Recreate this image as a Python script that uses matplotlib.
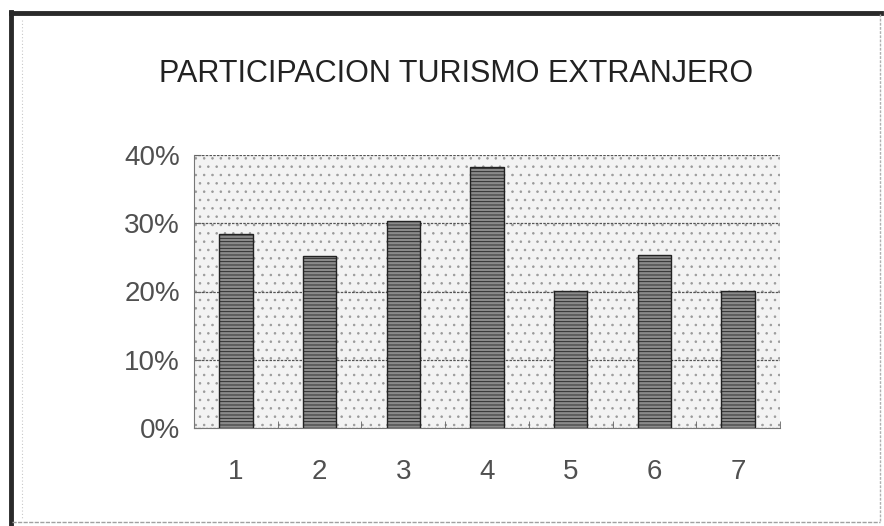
import matplotlib
matplotlib.use("Agg")
import matplotlib.pyplot as plt
from matplotlib.patches import Rectangle
from matplotlib.lines import Line2D
from matplotlib.ticker import FuncFormatter, FixedLocator

categories = ["1", "2", "3", "4", "5", "6", "7"]
values = [0.284, 0.252, 0.304, 0.383, 0.201, 0.253, 0.201]
yticks = [0.0, 0.1, 0.2, 0.3, 0.4]
title = "PARTICIPACION TURISMO EXTRANJERO"

plt.rcParams['font.family'] = ['Liberation Sans', 'DejaVu Sans']
plt.rcParams['hatch.linewidth'] = 0.6

W, H = 884, 526
fig = plt.figure(figsize=(W / 100, H / 100), dpi=100)
fig.patch.set_facecolor("white")

def fx(px):
    return px / W

def fy(py):
    return 1 - py / H

# outer frame: heavy top/left, faint right/bottom
fig.add_artist(Line2D([fx(11), fx(881)], [fy(13), fy(13)], transform=fig.transFigure,
                      color="#2a2a2a", linewidth=3.5))
fig.add_artist(Line2D([fx(11), fx(11)], [fy(12), fy(524)], transform=fig.transFigure,
                      color="#2a2a2a", linewidth=3.5))
fig.add_artist(Line2D([fx(880), fx(880)], [fy(14), fy(522)], transform=fig.transFigure,
                      color="#b0b0b0", linewidth=1.0, linestyle=(0, (2, 1))))
fig.add_artist(Line2D([fx(12), fx(880)], [fy(522), fy(522)], transform=fig.transFigure,
                      color="#a0a0a0", linewidth=1.0, linestyle=(0, (3, 1))))
fig.add_artist(Line2D([fx(22), fx(22)], [fy(20), fy(520)], transform=fig.transFigure,
                      color="#c8c8c8", linewidth=0.8, linestyle=(0, (1, 2))))

ax = fig.add_axes([fx(194), fy(428), fx(780) - fx(194), (428 - 155) / H])
ax.set_facecolor("#f3f3f3")
# dotted background texture
ax.add_patch(Rectangle((0, 0), 1, 1, transform=ax.transAxes, facecolor="none",
                       edgecolor="#9a9a9a", hatch="..", linewidth=0, zorder=0))

x = list(range(len(categories)))
ax.bar(x, values, width=0.4, color="#8a8a8a", edgecolor="#222222",
       linewidth=1.0, hatch="-----", zorder=3)

ax.set_xlim(-0.5, len(categories) - 0.5)
ax.set_ylim(0, 0.4)
ax.set_yticks(yticks)
ax.yaxis.set_major_formatter(FuncFormatter(lambda v, p: f"{v*100:.0f}%"))
ax.set_xticks(x)
ax.set_xticklabels(categories)
ax.xaxis.set_minor_locator(FixedLocator([i + 0.5 for i in range(-1, len(categories))]))
ax.tick_params(axis="x", which="major", length=0, pad=22, labelsize=20, labelcolor="#505050")
ax.tick_params(axis="x", which="minor", length=5, direction="in", color="#666666")
ax.tick_params(axis="y", length=5, direction="in", color="#666666", labelsize=20,
               labelcolor="#505050", pad=10)

ax.grid(axis="y", color="#555555", linestyle=(0, (2, 1)), linewidth=0.9, zorder=1)
for s in ["top", "right"]:
    ax.spines[s].set_visible(False)
ax.spines["left"].set_color("#777777")
ax.spines["bottom"].set_color("#777777")

fig.text(fx(456), fy(74), title, ha="center", va="center", fontsize=22,
         color="#222222")

fig.savefig("out.png", dpi=100)
